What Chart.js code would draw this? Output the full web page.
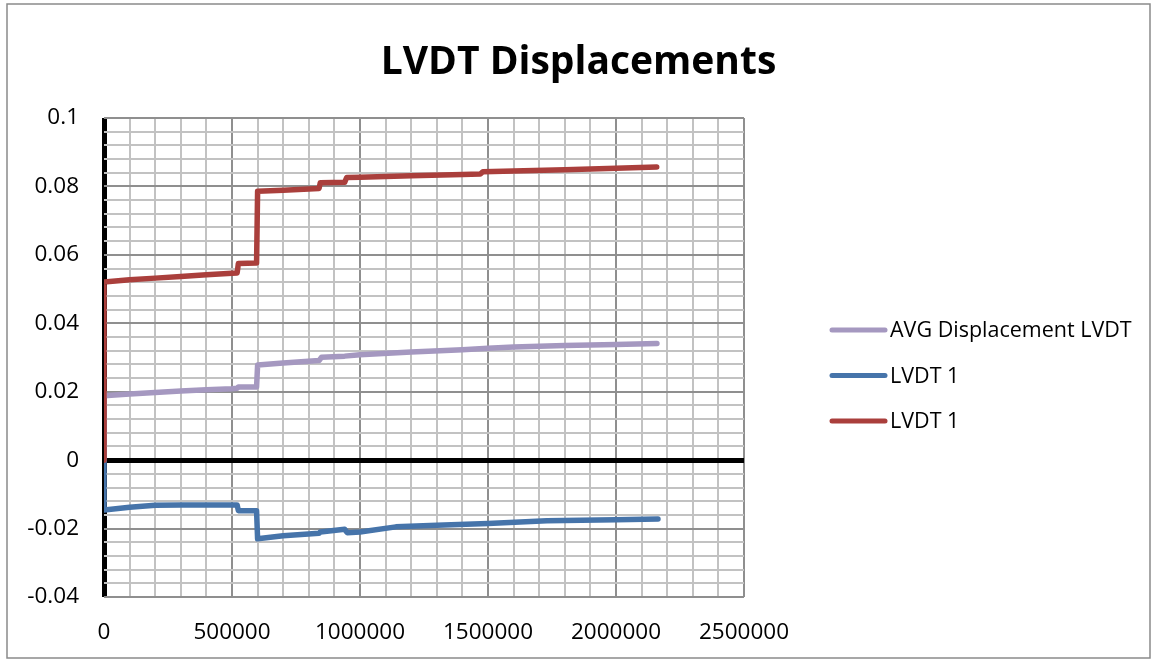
<!DOCTYPE html>
<html>
<head>
<meta charset="utf-8">
<title>LVDT Displacements</title>
<script src="https://cdn.jsdelivr.net/npm/chart.js@4/dist/chart.umd.min.js"></script>
<style>
  html, body { margin: 0; padding: 0; background: #fff; }
  canvas { display: block; }
</style>
</head>
<body>
<canvas id="chart" width="1157" height="662"></canvas>
<script>
// Series names (both gauges are labelled "LVDT 1" in the source sheet)
const seriesNames = ['AVG Displacement LVDT', 'LVDT 1', 'LVDT 1'];
const seriesColors = ['#a598c0', '#4674aa', '#aa3f3c'];

// AVG Displacement LVDT
const avgCycles = [0, 0, 100000, 200000, 300000, 400000, 500000, 520000, 525000, 596000, 600000,
    700000, 840000, 850000, 940000, 1000000, 1200000, 1400000, 1500000, 1600000, 1800000, 2000000, 2160000];
const avgDisp = [0, 0.0188, 0.0193, 0.0198, 0.0202, 0.0206, 0.0209, 0.021, 0.0214, 0.0214, 0.0278,
    0.0284, 0.0291, 0.0301, 0.0304, 0.0308, 0.0316, 0.0323, 0.0327, 0.0331, 0.0335, 0.0338, 0.0341];

// LVDT 1 (lower gauge)
const lvdtLowCycles = [0, 0, 100000, 200000, 300000, 400000, 520000, 525000, 596000, 600000, 700000,
    840000, 845000, 940000, 950000, 1000000, 1140000, 1300000, 1500000, 1730000, 2000000, 2164000];
const lvdtLowDisp = [0, -0.0146, -0.0138, -0.0132, -0.0131, -0.0131, -0.0131, -0.0148, -0.0148, -0.0230, -0.0221,
    -0.0214, -0.0210, -0.0202, -0.0212, -0.0210, -0.0195, -0.0190, -0.0185, -0.0177, -0.0174, -0.0172];

// LVDT 1 (upper gauge)
const lvdtHighCycles = [0, 0, 100000, 200000, 300000, 400000, 500000, 520000, 525000, 596000, 600000,
    700000, 840000, 845000, 940000, 948000, 1000000, 1200000, 1400000, 1470000, 1480000, 1600000, 1800000, 2000000, 2159000];
const lvdtHighDisp = [0, 0.0521, 0.0527, 0.0532, 0.0537, 0.0542, 0.0546, 0.0547, 0.0575, 0.0576, 0.0786,
    0.0789, 0.0794, 0.0811, 0.0812, 0.0826, 0.0827, 0.0831, 0.0835, 0.0836, 0.0843, 0.0845, 0.0849, 0.0853, 0.0857];

// Axis ranges and tick spacing
const xMin = 0, xMax = 2500000, xMinorStep = 100000, xMajorStep = 500000;
const yMin = -0.04, yMax = 0.1, yMinorStep = 0.004, yMajorStep = 0.02;

const FONT = "'Open Sans', 'Liberation Sans', sans-serif";

function toPoints(xs, ys) {
    return xs.map((x, i) => ({ x: x, y: ys[i] }));
}

function isMultiple(v, step) {
    const r = v / step;
    return Math.abs(r - Math.round(r)) < 1e-6;
}

function gridColor(step) {
    return ctx => {
        const v = ctx.tick.value;
        if (Math.abs(v) < 1e-9) return '#000000';
        return isMultiple(v, step) ? '#8f8f8f' : '#c2c2c2';
    };
}

function gridWidth(ctx) {
    return Math.abs(ctx.tick.value) < 1e-9 ? 5 : 2;
}

// White background plus the thin frame round the whole chart
const frame = {
    id: 'frame',
    beforeDraw(chart) {
        const c = chart.ctx;
        c.save();
        c.fillStyle = '#ffffff';
        c.fillRect(0, 0, chart.width, chart.height);
        c.strokeStyle = '#8a8a8a';
        c.lineWidth = 1.5;
        c.strokeRect(7, 4, chart.width - 14, chart.height - 8);
        c.restore();
    }
};

// Legend on the right: short line sample then the series name
const sideLegend = {
    id: 'sideLegend',
    afterDraw(chart) {
        const c = chart.ctx;
        const area = chart.chartArea;
        const x0 = area.right + 88;
        const top = 330;
        const rowGap = 45.5;
        c.save();
        c.font = '21.5px ' + FONT;
        c.textBaseline = 'middle';
        c.textAlign = 'left';
        chart.data.datasets.forEach((ds, i) => {
            const y = top + i * rowGap;
            c.strokeStyle = ds.borderColor;
            c.lineWidth = 5;
            c.lineCap = 'round';
            c.beginPath();
            c.moveTo(x0, y);
            c.lineTo(x0 + 53, y);
            c.stroke();
            c.fillStyle = '#000000';
            c.fillText(ds.label, x0 + 58, y + 1);
        });
        c.restore();
    }
};

function makeDataset(i, xs, ys, order) {
    return {
        label: seriesNames[i],
        data: toPoints(xs, ys),
        borderColor: seriesColors[i],
        backgroundColor: seriesColors[i],
        borderWidth: 5.5,
        borderCapStyle: 'round',
        borderJoinStyle: 'round',
        pointRadius: 0,
        tension: 0,
        fill: false,
        order: order
    };
}

const chart = new Chart(document.getElementById('chart'), {
    type: 'line',
    data: {
        datasets: [
            makeDataset(0, avgCycles, avgDisp, 3),
            makeDataset(1, lvdtLowCycles, lvdtLowDisp, 2),
            makeDataset(2, lvdtHighCycles, lvdtHighDisp, 1)
        ]
    },
    options: {
        responsive: false,
        animation: false,
        devicePixelRatio: 1,
        layout: { padding: 0 },
        plugins: {
            legend: { display: false },
            tooltip: { enabled: false },
            title: {
                display: true,
                text: 'LVDT Displacements',
                color: '#000000',
                font: { family: FONT, size: 39, weight: 'bold', lineHeight: 1.2 },
                padding: { top: 39, bottom: 32.2 }
            }
        },
        scales: {
            x: {
                type: 'linear',
                min: xMin,
                max: xMax,
                border: { display: false },
                grid: { color: gridColor(xMajorStep), lineWidth: gridWidth, drawTicks: false },
                ticks: {
                    stepSize: xMinorStep,
                    maxTicksLimit: 100,
                    autoSkip: false,
                    maxRotation: 0,
                    padding: 22,
                    color: '#000000',
                    font: { family: FONT, size: 22.5 },
                    callback: v => isMultiple(v, xMajorStep) ? String(v) : ''
                },
                afterFit: s => { s.height = 65; }
            },
            y: {
                type: 'linear',
                min: yMin,
                max: yMax,
                border: { display: false },
                grid: { color: gridColor(yMajorStep), lineWidth: gridWidth, drawTicks: false },
                ticks: {
                    stepSize: yMinorStep,
                    maxTicksLimit: 100,
                    autoSkip: false,
                    padding: 25,
                    color: '#000000',
                    font: { family: FONT, size: 22.5 },
                    callback: v => isMultiple(v, yMajorStep) ? String(Math.round(v * 100) / 100) : ''
                },
                afterFit: s => { s.width = 104; }
            },
            // empty axis that keeps room on the right for the legend
            legendSpace: {
                type: 'linear',
                position: 'right',
                display: true,
                border: { display: false },
                grid: { display: false, drawTicks: false },
                ticks: { display: false },
                afterFit: s => { s.width = 413; }
            }
        }
    },
    plugins: [frame, sideLegend]
});
</script>
</body>
</html>
